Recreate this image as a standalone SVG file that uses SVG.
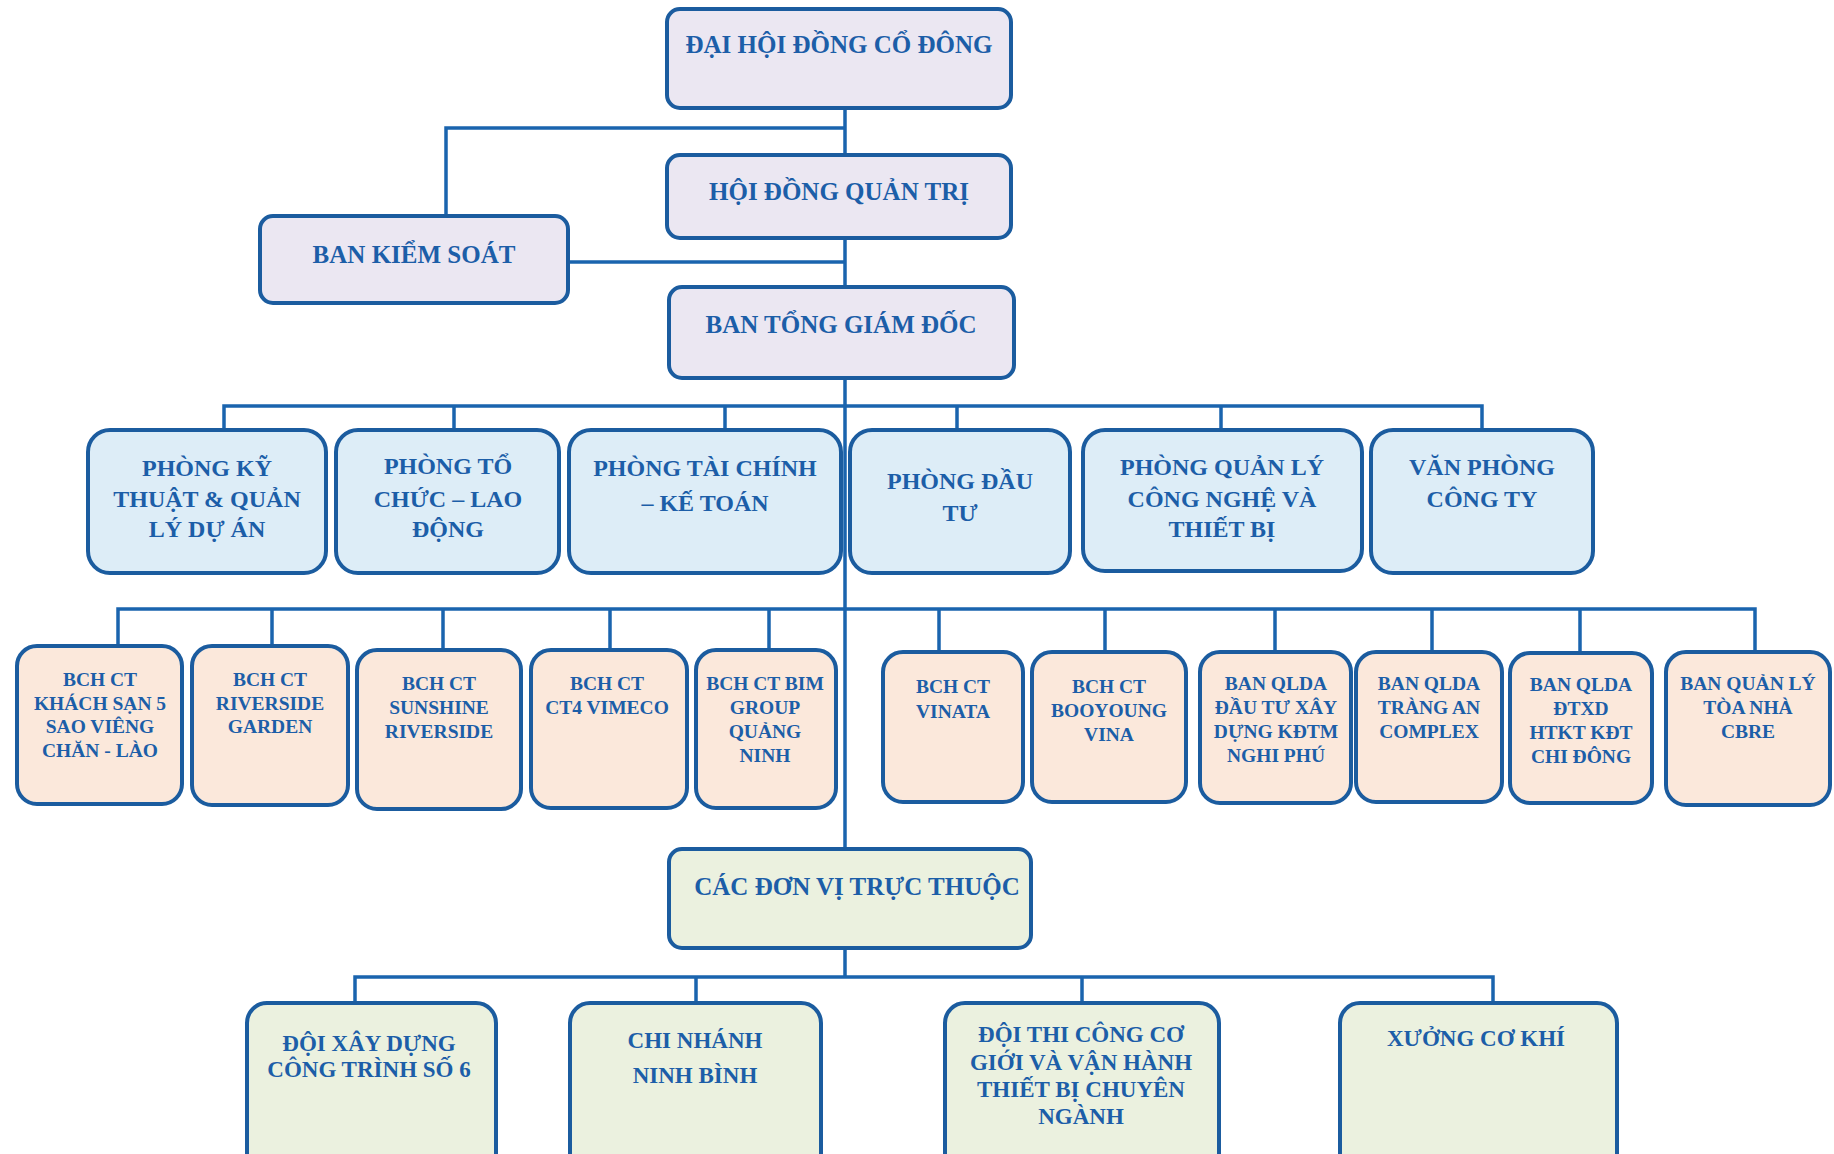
<svg xmlns="http://www.w3.org/2000/svg" width="1834" height="1154" viewBox="0 0 1834 1154">
<style>
.b{stroke:#1b5c9f;stroke-width:4}
.top{fill:#ebe7f2}
.dep{fill:#ddedf7}
.bch{fill:#fbe8db}
.unit{fill:#ebf1df}
text{font-family:"Liberation Serif","Times New Roman",serif;font-weight:bold;fill:#1c5ea8;text-anchor:middle}
.t1{font-size:25px}
.t2{font-size:24px}
.t3{font-size:19.5px}
.t4{font-size:23px}
.c{fill:none;stroke:#1a64ae;stroke-width:3.5}
</style>
<rect width="1834" height="1154" fill="#ffffff"/>
<g id="connectors" class="c">
<path d="M845 108 V848 M845 948 V977"/>
<path d="M446 216 V128 H845"/>
<path d="M570 262 H845"/>
<path d="M224 430 V406 H1482 V430 M454 406 V430 M725 406 V430 M957 406 V430 M1221 406 V430"/>
<path d="M118 648 V609 H1755 V652 M272 609 V646 M443 609 V650 M610 609 V650 M769 609 V650 M939 609 V652 M1105 609 V652 M1275 609 V652 M1432 609 V652 M1580 609 V652"/>
<path d="M355 1003 V977 H1493 V1003 M696 977 V1003 M1082 977 V1003"/>
</g>
<g id="n_dhdcd"><rect class="b top" x="667" y="9" width="344" height="99" rx="13"/><text class="t1" x="839" y="53">ĐẠI HỘI ĐỒNG CỔ ĐÔNG</text></g>
<g id="n_hdqt"><rect class="b top" x="667" y="155" width="344" height="83" rx="13"/><text class="t1" x="839" y="200">HỘI ĐỒNG QUẢN TRỊ</text></g>
<g id="n_bks"><rect class="b top" x="260" y="216" width="308" height="87" rx="13"/><text class="t1" x="414" y="263">BAN KIỂM SOÁT</text></g>
<g id="n_btgd"><rect class="b top" x="669" y="287" width="345" height="91" rx="13"/><text class="t1" x="841" y="333">BAN TỔNG GIÁM ĐỐC</text></g>

<g id="n_p1"><rect class="b dep" x="88" y="430" width="238" height="143" rx="22"/><text class="t2" x="207"><tspan x="207" y="476">PHÒNG KỸ</tspan><tspan x="207" y="507">THUẬT &amp; QUẢN</tspan><tspan x="207" y="537">LÝ DỰ ÁN</tspan></text></g>
<g id="n_p2"><rect class="b dep" x="336" y="430" width="223" height="143" rx="22"/><text class="t2" x="448"><tspan x="448" y="474">PHÒNG TỔ</tspan><tspan x="448" y="507">CHỨC – LAO</tspan><tspan x="448" y="537">ĐỘNG</tspan></text></g>
<g id="n_p3"><rect class="b dep" x="569" y="430" width="272" height="143" rx="22"/><text class="t2" x="705"><tspan x="705" y="476">PHÒNG TÀI CHÍNH</tspan><tspan x="705" y="511">– KẾ TOÁN</tspan></text></g>
<g id="n_p4"><rect class="b dep" x="850" y="430" width="220" height="143" rx="22"/><text class="t2" x="960"><tspan x="960" y="489">PHÒNG ĐẦU</tspan><tspan x="960" y="521">TƯ</tspan></text></g>
<g id="n_p5"><rect class="b dep" x="1083" y="430" width="279" height="141" rx="22"/><text class="t2" x="1222"><tspan x="1222" y="475">PHÒNG QUẢN LÝ</tspan><tspan x="1222" y="507">CÔNG NGHỆ VÀ</tspan><tspan x="1222" y="537">THIẾT BỊ</tspan></text></g>
<g id="n_p6"><rect class="b dep" x="1371" y="430" width="222" height="143" rx="22"/><text class="t2" x="1482"><tspan x="1482" y="475">VĂN PHÒNG</tspan><tspan x="1482" y="507">CÔNG TY</tspan></text></g>

<g id="n_b1"><rect class="b bch" x="17" y="646" width="165" height="158" rx="20"/><text class="t3" x="100"><tspan x="100" y="686">BCH CT</tspan><tspan x="100" y="710">KHÁCH SẠN 5</tspan><tspan x="100" y="733">SAO VIÊNG</tspan><tspan x="100" y="757">CHĂN - LÀO</tspan></text></g>
<g id="n_b2"><rect class="b bch" x="192" y="646" width="156" height="159" rx="20"/><text class="t3" x="270"><tspan x="270" y="686">BCH CT</tspan><tspan x="270" y="710">RIVERSIDE</tspan><tspan x="270" y="733">GARDEN</tspan></text></g>
<g id="n_b3"><rect class="b bch" x="357" y="650" width="164" height="159" rx="20"/><text class="t3" x="439"><tspan x="439" y="690">BCH CT</tspan><tspan x="439" y="714">SUNSHINE</tspan><tspan x="439" y="738">RIVERSIDE</tspan></text></g>
<g id="n_b4"><rect class="b bch" x="531" y="650" width="156" height="158" rx="20"/><text class="t3" x="607"><tspan x="607" y="690">BCH CT</tspan><tspan x="607" y="714">CT4 VIMECO</tspan></text></g>
<g id="n_b5"><rect class="b bch" x="696" y="650" width="140" height="158" rx="20"/><text class="t3" x="765"><tspan x="765" y="690">BCH CT BIM</tspan><tspan x="765" y="714">GROUP</tspan><tspan x="765" y="738">QUẢNG</tspan><tspan x="765" y="762">NINH</tspan></text></g>
<g id="n_b6"><rect class="b bch" x="883" y="652" width="140" height="150" rx="20"/><text class="t3" x="953"><tspan x="953" y="693">BCH CT</tspan><tspan x="953" y="718">VINATA</tspan></text></g>
<g id="n_b7"><rect class="b bch" x="1032" y="652" width="154" height="150" rx="20"/><text class="t3" x="1109"><tspan x="1109" y="693">BCH CT</tspan><tspan x="1109" y="717">BOOYOUNG</tspan><tspan x="1109" y="741">VINA</tspan></text></g>
<g id="n_b8"><rect class="b bch" x="1200" y="652" width="151" height="151" rx="20"/><text class="t3" x="1276"><tspan x="1276" y="690">BAN QLDA</tspan><tspan x="1276" y="714">ĐẦU TƯ XÂY</tspan><tspan x="1276" y="738">DỰNG KĐTM</tspan><tspan x="1276" y="762">NGHI PHÚ</tspan></text></g>
<g id="n_b9"><rect class="b bch" x="1356" y="652" width="146" height="150" rx="20"/><text class="t3" x="1429"><tspan x="1429" y="690">BAN QLDA</tspan><tspan x="1429" y="714">TRÀNG AN</tspan><tspan x="1429" y="738">COMPLEX</tspan></text></g>
<g id="n_b10"><rect class="b bch" x="1510" y="653" width="142" height="150" rx="20"/><text class="t3" x="1581"><tspan x="1581" y="691">BAN QLDA</tspan><tspan x="1581" y="715">ĐTXD</tspan><tspan x="1581" y="739">HTKT KĐT</tspan><tspan x="1581" y="763">CHI ĐÔNG</tspan></text></g>
<g id="n_b11"><rect class="b bch" x="1666" y="652" width="164" height="153" rx="20"/><text class="t3" x="1748"><tspan x="1748" y="690">BAN QUẢN LÝ</tspan><tspan x="1748" y="714">TÒA NHÀ</tspan><tspan x="1748" y="738">CBRE</tspan></text></g>

<g id="n_dvtt"><rect class="b unit" x="669" y="849" width="362" height="99" rx="13"/><text class="t1" x="857" y="895">CÁC ĐƠN VỊ TRỰC THUỘC</text></g>
<g id="n_u1"><rect class="b unit" x="247" y="1003" width="249" height="180" rx="20"/><text class="t4" x="369"><tspan x="369" y="1051">ĐỘI XÂY DỰNG</tspan><tspan x="369" y="1077">CÔNG TRÌNH SỐ 6</tspan></text></g>
<g id="n_u2"><rect class="b unit" x="570" y="1003" width="251" height="180" rx="20"/><text class="t4" x="695"><tspan x="695" y="1048">CHI NHÁNH</tspan><tspan x="695" y="1083">NINH BÌNH</tspan></text></g>
<g id="n_u3"><rect class="b unit" x="945" y="1003" width="274" height="180" rx="20"/><text class="t4" x="1081"><tspan x="1081" y="1042">ĐỘI THI CÔNG CƠ</tspan><tspan x="1081" y="1070">GIỚI VÀ VẬN HÀNH</tspan><tspan x="1081" y="1097">THIẾT BỊ CHUYÊN</tspan><tspan x="1081" y="1124">NGÀNH</tspan></text></g>
<g id="n_u4"><rect class="b unit" x="1340" y="1003" width="277" height="180" rx="20"/><text class="t4" x="1476" y="1046">XƯỞNG CƠ KHÍ</text></g>
</svg>
